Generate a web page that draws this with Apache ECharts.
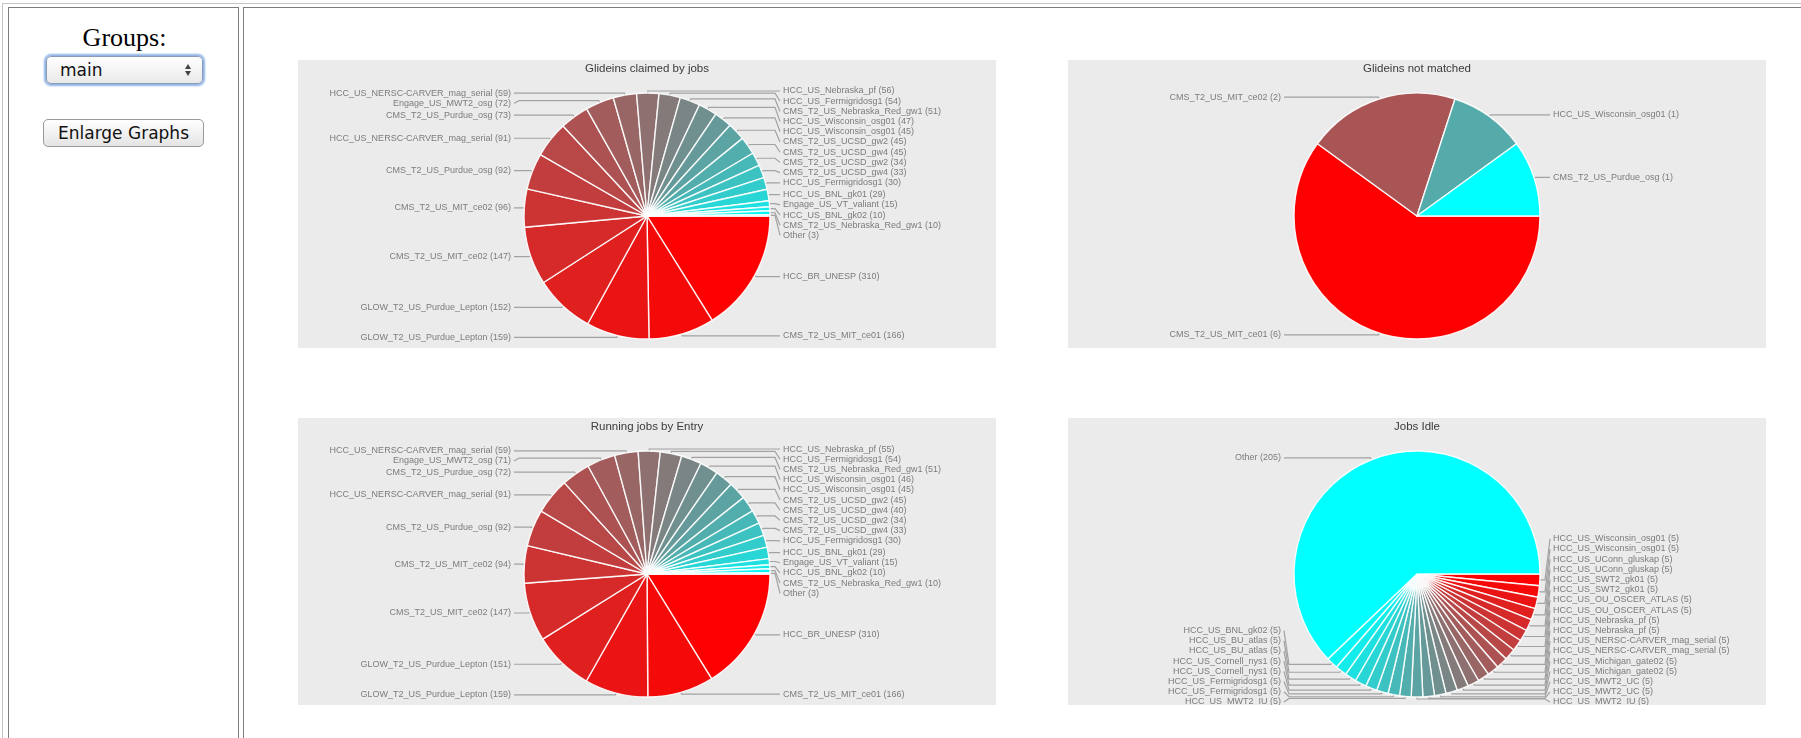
<!DOCTYPE html>
<html>
<head>
<meta charset="utf-8">
<script src="https://cdn.jsdelivr.net/npm/echarts@6/dist/echarts.min.js"></script>
<style>
html,body{margin:0;padding:0;background:#fff;}
body{width:1801px;height:738px;overflow:hidden;position:relative;}
#outer{position:absolute;left:2px;top:3px;width:1830px;height:780px;border:1px solid #c4c4c4;}
#side{position:absolute;left:8px;top:7px;width:229px;height:780px;border:1px solid #7d7d7d;}
#mainc{position:absolute;left:243px;top:7px;width:1600px;height:780px;border:1px solid #7d7d7d;}
#groups{position:absolute;left:9px;top:25px;width:231px;text-align:center;font-family:'Liberation Serif',serif;font-size:26px;line-height:26px;color:#000;}
#sel{position:absolute;left:46px;top:56px;width:155px;height:26px;border:1px solid #8a9bb5;border-radius:5px;
  background:linear-gradient(#ffffff,#e9e9e9);box-shadow:0 0 2px 2px #8fb3e6;font-family:'DejaVu Sans',sans-serif;font-size:17px;color:#111;}
#sel span{position:absolute;left:13px;top:3px;}
#sel .up{position:absolute;left:138px;top:7px;width:0;height:0;border-left:3px solid transparent;border-right:3px solid transparent;border-bottom:5px solid #444;}
#sel .dn{position:absolute;left:138px;top:14px;width:0;height:0;border-left:3px solid transparent;border-right:3px solid transparent;border-top:5px solid #444;}
#btn{position:absolute;left:43px;top:119px;width:159px;height:26px;border:1px solid #9a9a9a;border-radius:5px;
  background:linear-gradient(#ffffff,#e4e4e4);font-family:'DejaVu Sans',sans-serif;font-size:17px;color:#111;text-align:center;line-height:26px;}
.panel{position:absolute;width:698px;}
</style>
</head>
<body>
<div id="outer"></div>
<div id="side"></div>
<div id="mainc"></div>
<div id="groups">Groups:</div>
<div id="sel"><span>main</span><div class="up"></div><div class="dn"></div></div>
<div id="btn">Enlarge Graphs</div>
<div id="p1" class="panel" style="left:298px;top:60px;height:288px;"></div>
<div id="p2" class="panel" style="left:1068px;top:60px;height:288px;"></div>
<div id="p3" class="panel" style="left:298px;top:418px;height:287px;"></div>
<div id="p4" class="panel" style="left:1068px;top:418px;height:287px;"></div>
<script>
// ---------- data ----------
const claimedTitle = 'Glideins claimed by jobs';
const claimedNames = ['HCC_BR_UNESP','CMS_T2_US_MIT_ce01','GLOW_T2_US_Purdue_Lepton','GLOW_T2_US_Purdue_Lepton','CMS_T2_US_MIT_ce02','CMS_T2_US_MIT_ce02','CMS_T2_US_Purdue_osg','HCC_US_NERSC-CARVER_mag_serial','CMS_T2_US_Purdue_osg','Engage_US_MWT2_osg','HCC_US_NERSC-CARVER_mag_serial','HCC_US_Nebraska_pf','HCC_US_Fermigridosg1','CMS_T2_US_Nebraska_Red_gw1','HCC_US_Wisconsin_osg01','HCC_US_Wisconsin_osg01','CMS_T2_US_UCSD_gw2','CMS_T2_US_UCSD_gw4','CMS_T2_US_UCSD_gw2','CMS_T2_US_UCSD_gw4','HCC_US_Fermigridosg1','HCC_US_BNL_gk01','Engage_US_VT_valiant','HCC_US_BNL_gk02','CMS_T2_US_Nebraska_Red_gw1','Other'];
const claimedValues = [310,166,159,152,147,96,92,91,73,72,59,56,54,51,47,45,45,45,34,33,30,29,15,10,10,3];

const notMatchedTitle = 'Glideins not matched';
const notMatchedNames = ['CMS_T2_US_MIT_ce01','CMS_T2_US_MIT_ce02','HCC_US_Wisconsin_osg01','CMS_T2_US_Purdue_osg'];
const notMatchedValues = [6,2,1,1];

const runningTitle = 'Running jobs by Entry';
const runningNames = ['HCC_BR_UNESP','CMS_T2_US_MIT_ce01','GLOW_T2_US_Purdue_Lepton','GLOW_T2_US_Purdue_Lepton','CMS_T2_US_MIT_ce02','CMS_T2_US_MIT_ce02','CMS_T2_US_Purdue_osg','HCC_US_NERSC-CARVER_mag_serial','CMS_T2_US_Purdue_osg','Engage_US_MWT2_osg','HCC_US_NERSC-CARVER_mag_serial','HCC_US_Nebraska_pf','HCC_US_Fermigridosg1','CMS_T2_US_Nebraska_Red_gw1','HCC_US_Wisconsin_osg01','HCC_US_Wisconsin_osg01','CMS_T2_US_UCSD_gw2','CMS_T2_US_UCSD_gw4','CMS_T2_US_UCSD_gw2','CMS_T2_US_UCSD_gw4','HCC_US_Fermigridosg1','HCC_US_BNL_gk01','Engage_US_VT_valiant','HCC_US_BNL_gk02','CMS_T2_US_Nebraska_Red_gw1','Other'];
const runningValues = [310,166,159,151,147,94,92,91,72,71,59,55,54,51,46,45,45,40,34,33,30,29,15,10,10,3];

const idleTitle = 'Jobs Idle';
const idleNames = ['HCC_US_Wisconsin_osg01','HCC_US_Wisconsin_osg01','HCC_US_UConn_gluskap','HCC_US_UConn_gluskap','HCC_US_SWT2_gk01','HCC_US_SWT2_gk01','HCC_US_OU_OSCER_ATLAS','HCC_US_OU_OSCER_ATLAS','HCC_US_Nebraska_pf','HCC_US_Nebraska_pf','HCC_US_NERSC-CARVER_mag_serial','HCC_US_NERSC-CARVER_mag_serial','HCC_US_Michigan_gate02','HCC_US_Michigan_gate02','HCC_US_MWT2_UC','HCC_US_MWT2_UC','HCC_US_MWT2_IU','HCC_US_MWT2_IU','HCC_US_Fermigridosg1','HCC_US_Fermigridosg1','HCC_US_Cornell_nys1','HCC_US_Cornell_nys1','HCC_US_BU_atlas','HCC_US_BU_atlas','HCC_US_BNL_gk02','Other'];
const idleValues = [5,5,5,5,5,5,5,5,5,5,5,5,5,5,5,5,5,5,5,5,5,5,5,5,5,205];

// ---------- drawing ----------
function sliceColor(i, n) {
  const t = n > 1 ? i / (n - 1) : 0;
  const r = Math.round(255 * (1 - t)), g = Math.round(255 * t);
  return 'rgb(' + r + ',' + g + ',' + g + ')';
}

function buildPie(domId, title, names, values) {
  const dom = document.getElementById(domId);
  const chart = echarts.init(dom, null, {renderer: 'canvas'});
  const W = dom.clientWidth, H = dom.clientHeight;
  const cx = W / 2, cy = 156, r = 123, rl = 125, lh = 10.2;
  const colR = cx + r + 13, colL = cx - r - 13;
  const total = values.reduce((a, b) => a + b, 0);
  let acc = 0;
  const items = values.map((v, i) => {
    const mid = (acc + v / 2) / total * 2 * Math.PI;
    acc += v;
    const c = Math.cos(mid), s = Math.sin(mid);
    return {i: i, side: c >= 0 ? 1 : -1, ex: cx + r * c, ey: cy + r * s,
            nx: cx + rl * c, ny: cy + rl * s, y: cy + rl * s};
  });
  [1, -1].forEach(side => {
    const list = items.filter(d => d.side === side).sort((a, b) => a.ny - b.ny);
    for (let k = 1; k < list.length; k++) {
      if (list[k].y < list[k - 1].y + lh) list[k].y = list[k - 1].y + lh;
    }
    const hi = H - 3;
    if (list.length && list[list.length - 1].y > hi) {
      list[list.length - 1].y = hi;
      for (let k = list.length - 2; k >= 0; k--) {
        list[k].y = Math.min(list[k].y, list[k + 1].y - lh);
      }
    }
  });

  chart.setOption({
    backgroundColor: '#ebebeb',
    animation: false,
    title: {
      text: title, left: 'center', top: 3, padding: 0,
      textStyle: {fontSize: 11.5, fontWeight: 'normal', color: '#3a3a3a', fontFamily: 'Liberation Sans'}
    },
    series: [{
      type: 'pie',
      center: [cx, cy],
      radius: r,
      startAngle: 0,
      clockwise: true,
      avoidLabelOverlap: false,
      silent: true,
      itemStyle: {borderColor: 'rgba(255,255,255,0.9)', borderWidth: 1.4},
      label: {
        show: true, position: 'outside', formatter: '{b} ({c})',
        fontSize: 9, color: '#7c7c7c', fontFamily: 'Liberation Sans', width: 260, overflow: 'none'
      },
      labelLine: {show: true, length: 2, length2: 8, lineStyle: {color: '#a2a2a2', width: 1.2}},
      labelLayout: function (p) {
        const d = items[p.dataIndex];
        const col = d.side > 0 ? colR : colL;
        return {
          x: col, y: d.y,
          align: d.side > 0 ? 'left' : 'right',
          verticalAlign: 'middle',
          labelLinePoints: [[d.ex, d.ey], [d.nx, d.ny], [col - d.side * 8, d.ny], [col - d.side * 3, d.y]]
        };
      },
      data: names.map((nm, i) => ({name: nm, value: values[i], itemStyle: {color: sliceColor(i, names.length)}}))
    }]
  });
  return chart;
}

buildPie('p1', claimedTitle, claimedNames, claimedValues);
buildPie('p2', notMatchedTitle, notMatchedNames, notMatchedValues);
buildPie('p3', runningTitle, runningNames, runningValues);
buildPie('p4', idleTitle, idleNames, idleValues);
</script>
</body>
</html>
